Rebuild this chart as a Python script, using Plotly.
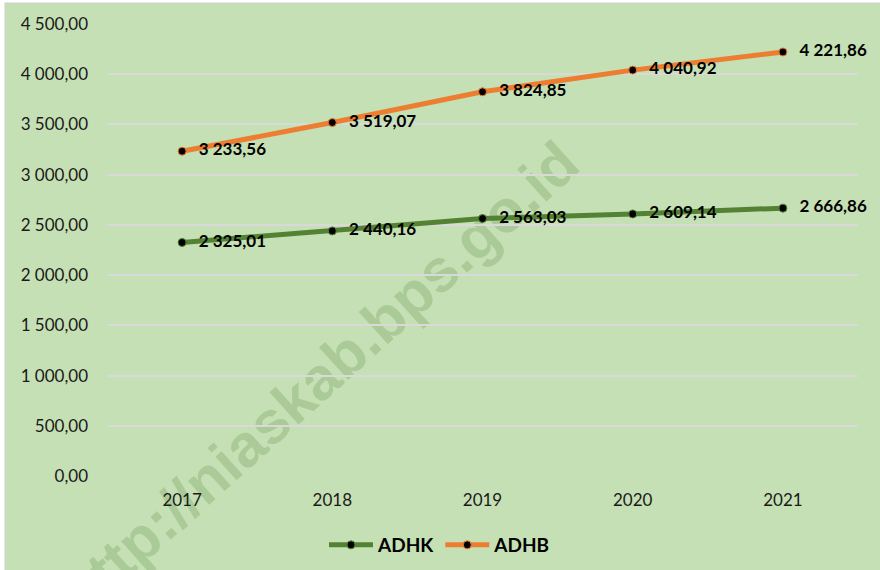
import base64
import plotly.graph_objects as go

years = ["2017", "2018", "2019", "2020", "2021"]
adhk = [2325.01, 2440.16, 2563.03, 2609.14, 2666.86]
adhb = [3233.56, 3519.07, 3824.85, 4040.92, 4221.86]
y_ticks = [0, 500, 1000, 1500, 2000, 2500, 3000, 3500, 4000, 4500]
watermark = "http://niaskab.bps.go.id"

def fmt(v):
    s = f"{v:,.2f}"
    return s.replace(",", " ").replace(".", ",")

W, H = 880, 570
L, R, T, B = 107, 22, 24, 94
pw, ph = W - L - R, H - T - B

def px(x):
    return (x - L) / pw

def py(y):
    return (H - B - y) / ph

# background + watermark as an image below the plot
cx, cy = 322, 382
svg = f'''<svg xmlns="http://www.w3.org/2000/svg" width="{W}" height="{H}" viewBox="0 0 {W} {H}">
<rect x="0" y="0" width="{W}" height="{H}" fill="#FFFFFF"/>
<rect x="5" y="3" width="{W}" height="{H}" fill="#C5E0B4" stroke="#D0D0D0" stroke-width="1"/>
<text x="{cx}" y="{cy}" transform="rotate(-42 {cx} {cy})" text-anchor="middle" dominant-baseline="middle"
 font-family="Liberation Sans, Arial, sans-serif" font-weight="bold" font-size="60" fill="#AACB98">{watermark}</text>
</svg>'''
src = "data:image/svg+xml;base64," + base64.b64encode(svg.encode()).decode()

fig = go.Figure()
for name, vals, col in [("ADHK", adhk, "#548235"), ("ADHB", adhb, "#ED7D31")]:
    fig.add_trace(go.Scatter(
        x=years, y=vals, name=name, mode="lines+markers+text",
        line=dict(color=col, width=5),
        marker=dict(color="black", size=8, line=dict(color=col, width=1)),
        text=["\u2002\u2009" + fmt(v) for v in vals], textposition="middle right",
        textfont=dict(family="Lato, Noto Sans, sans-serif", size=17, color="black", weight="bold"),
        cliponaxis=False,
    ))

fig.add_layout_image(source=src, xref="paper", yref="paper", x=px(0), y=py(0),
                     sizex=W / pw, sizey=H / ph, xanchor="left", yanchor="top",
                     sizing="stretch", layer="below")

fig.update_layout(
    width=W, height=H,
    margin=dict(l=L, r=R, t=T, b=B, autoexpand=False),
    paper_bgcolor="#C5E0B4", plot_bgcolor="rgba(0,0,0,0)",
    font=dict(family="Lato, Noto Sans, sans-serif", size=17, color="#1a1a1a"),
    showlegend=True,
    legend=dict(orientation="h", x=0.5, xanchor="center", xref="container",
                y=1 - 545 / H, yanchor="middle", yref="container",
                font=dict(size=19, color="black", weight="bold"), bgcolor="rgba(0,0,0,0)",
                itemwidth=44, tracegroupgap=0),
)
fig.update_xaxes(type="category", range=[-0.5, 4.5], showgrid=False, zeroline=False,
                 showline=False, ticks="", ticklabelstandoff=12, tickfont=dict(size=17),
                 automargin=False)
fig.update_yaxes(range=[0, 4500], tickvals=y_ticks, ticktext=[fmt(v) for v in y_ticks],
                 showgrid=True, gridcolor="#D9D9D9", gridwidth=2, zeroline=False,
                 showline=False, ticks="", ticklabelstandoff=18, tickfont=dict(size=17),
                 automargin=False)
fig.write_html("out.html", config={"displayModeBar": False},
               post_script="document.body.style.margin='0';")
